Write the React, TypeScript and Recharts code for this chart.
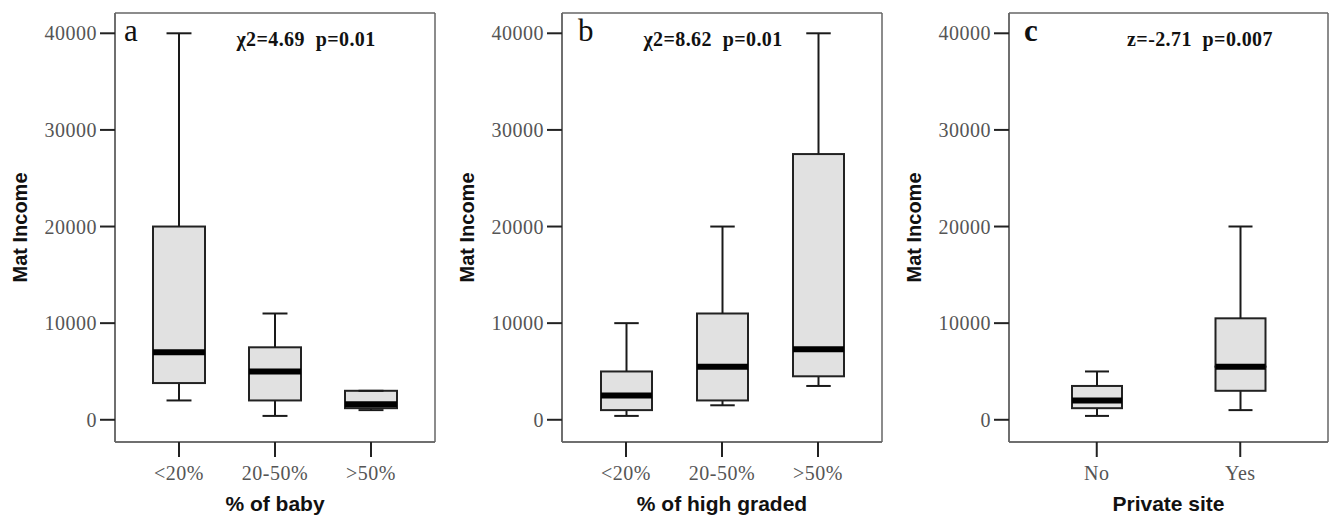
import React from 'react';
import { ComposedChart, Bar, XAxis, YAxis, CartesianGrid } from 'recharts';

// panel a: % of baby
const catsA = ['<20%', '20-50%', '>50%'];
const lowA = [2000, 400, 1000];
const q1A = [3800, 2000, 1200];
const medA = [7000, 5000, 1600];
const q3A = [20000, 7500, 3000];
const highA = [40000, 11000, 3000];

// panel b: % of high graded
const catsB = ['<20%', '20-50%', '>50%'];
const lowB = [400, 1500, 3500];
const q1B = [1000, 2000, 4500];
const medB = [2500, 5500, 7300];
const q3B = [5000, 11000, 27500];
const highB = [10000, 20000, 40000];

// panel c: private site
const catsC = ['No', 'Yes'];
const lowC = [400, 1000];
const q1C = [1200, 3000];
const medC = [2000, 5500];
const q3C = [3500, 10500];
const highC = [5000, 20000];

const yTicks = [0, 10000, 20000, 30000, 40000];

const serif = '"Liberation Serif", "Times New Roman", serif';
const sans = '"Liberation Sans", Arial, sans-serif';

const buildRows = (cats: string[], low: number[], q1: number[], med: number[], q3: number[], high: number[]) =>
  cats.map((cat, i) => ({
    cat,
    base: low[i],
    wLo: q1[i] - low[i],
    bLo: med[i] - q1[i],
    bHi: q3[i] - med[i],
    wHi: high[i] - q3[i],
  }));

const LowWhisker = (props: any) => {
  const { x, y, width, height } = props;
  const cx = x + width / 2;
  const cap = width * 0.24;
  return (
    <g>
      <line x1={cx} x2={cx} y1={y} y2={y + height} stroke="#1a1a1a" strokeWidth={2} />
      <line x1={cx - cap} x2={cx + cap} y1={y + height} y2={y + height} stroke="#1a1a1a" strokeWidth={2} />
    </g>
  );
};

const HighWhisker = (props: any) => {
  const { x, y, width, height } = props;
  const cx = x + width / 2;
  const cap = width * 0.24;
  return (
    <g>
      <line x1={cx} x2={cx} y1={y} y2={y + height} stroke="#1a1a1a" strokeWidth={2} />
      <line x1={cx - cap} x2={cx + cap} y1={y} y2={y} stroke="#1a1a1a" strokeWidth={2} />
    </g>
  );
};

const LowBox = (props: any) => {
  const { x, y, width, height } = props;
  return <rect x={x} y={y} width={width} height={height} fill="#e1e1e1" stroke="#222" strokeWidth={2} />;
};

// upper half of the box; the median sits on its lower edge
const HighBox = (props: any) => {
  const { x, y, width, height } = props;
  return (
    <g>
      <rect x={x} y={y} width={width} height={height} fill="#e1e1e1" stroke="#222" strokeWidth={2} />
      <line x1={x} x2={x + width} y1={y + height} y2={y + height} stroke="#000" strokeWidth={6} />
    </g>
  );
};

const YTitle = (props: any) => {
  const { viewBox } = props;
  const x = viewBox.x + viewBox.width - 95;
  const y = viewBox.y + viewBox.height / 2;
  return (
    <text x={x} y={y} transform={`rotate(-90 ${x} ${y})`} textAnchor="middle" dominantBaseline="central"
      fontFamily={sans} fontWeight="bold" fontSize={20} fill="#111">
      Mat Income
    </text>
  );
};

// frame around the plot area
const frameRows = ({ offset }: any) => [offset.top, offset.top + offset.height];
const frameCols = ({ offset }: any) => [offset.left, offset.left + offset.width];

type PanelProps = {
  left: number;
  width: number;
  rows: any[];
  xTitle: string;
  letter: string;
  letterX: number;
  letterBold?: boolean;
  stat: string;
  statX: number;
  barSize: number;
};

const tickFont = { fontFamily: serif, fontSize: 20, fill: '#555', letterSpacing: 0.5 };

const Panel = ({ left, width, rows, xTitle, letter, letterX, letterBold, stat, statX, barSize }: PanelProps) => (
  <div style={{ position: 'absolute', left, top: 0 }}>
    <ComposedChart width={width} height={518} data={rows} margin={{ top: 13, right: width === 440 ? 5 : 1, bottom: 0, left: 0 }}>
      <CartesianGrid stroke="#666" strokeWidth={1.5}
        horizontalCoordinatesGenerator={frameRows} verticalCoordinatesGenerator={frameCols} />
      <XAxis
        dataKey="cat"
        height={76}
        padding={{ left: 16, right: 16 }}
        tickSize={15}
        tickMargin={9}
        axisLine={{ stroke: '#666', strokeWidth: 1.5 }}
        tickLine={{ stroke: '#222', strokeWidth: 2 }}
        tick={tickFont}
        label={{ value: xTitle, position: 'insideBottom', offset: 7, fontFamily: sans, fontWeight: 'bold', fontSize: 21, fill: '#111' }}
      />
      <YAxis
        type="number"
        domain={[-2300, 42100]}
        ticks={yTicks}
        allowDataOverflow
        width={115}
        tickSize={15}
        tickMargin={3}
        axisLine={{ stroke: '#666', strokeWidth: 1.5 }}
        tickLine={{ stroke: '#222', strokeWidth: 2 }}
        tick={tickFont}
        label={{ content: <YTitle /> }}
      />
      <Bar dataKey="base" stackId="box" fill="none" barSize={barSize} isAnimationActive={false} />
      <Bar dataKey="wLo" stackId="box" barSize={barSize} shape={<LowWhisker />} isAnimationActive={false} />
      <Bar dataKey="bLo" stackId="box" barSize={barSize} shape={<LowBox />} isAnimationActive={false} />
      <Bar dataKey="bHi" stackId="box" barSize={barSize} shape={<HighBox />} isAnimationActive={false} />
      <Bar dataKey="wHi" stackId="box" barSize={barSize} shape={<HighWhisker />} isAnimationActive={false} />
      <text x={letterX} y={41} fontFamily={serif} fontSize={31} fontWeight={letterBold ? 'bold' : 'normal'} fill="#111">
        {letter}
      </text>
      <text x={statX} y={46} textAnchor="middle" fontFamily={serif} fontWeight="bold" fontSize={20} fill="#111"
        letterSpacing={0.4} style={{ whiteSpace: 'pre' }}>
        {stat}
      </text>
    </ComposedChart>
  </div>
);

export default function App() {
  return (
    <div style={{ position: 'absolute', left: 0, top: 0, width: 1329, height: 518, background: '#fff', overflow: 'hidden' }}>
      <Panel left={0} width={440} rows={buildRows(catsA, lowA, q1A, medA, q3A, highA)} xTitle="% of baby"
        letter="a" letterX={124} stat="χ2=4.69  p=0.01" statX={306} barSize={52} />
      <Panel left={447} width={440} rows={buildRows(catsB, lowB, q1B, medB, q3B, highB)} xTitle="% of high graded"
        letter="b" letterX={131} stat="χ2=8.62  p=0.01" statX={266} barSize={51} />
      <Panel left={894} width={435} rows={buildRows(catsC, lowC, q1C, medC, q3C, highC)} xTitle="Private site"
        letter="c" letterX={130} letterBold stat="z=-2.71  p=0.007" statX={306} barSize={50} />
    </div>
  );
}
